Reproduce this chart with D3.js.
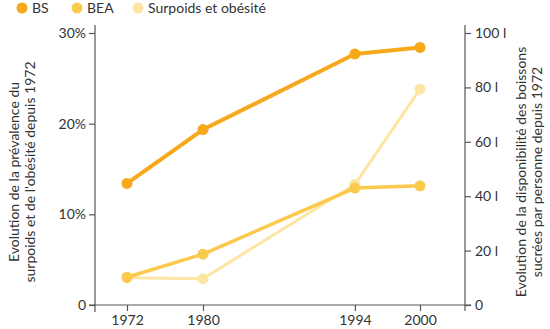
<!DOCTYPE html>
<html><head><meta charset="utf-8">
<script src="https://cdn.jsdelivr.net/npm/d3@7"></script>
<style>
body{margin:0;background:#fff;}
svg{display:block;font-family:Lato,"Open Sans",sans-serif;}
</style></head>
<body>
<svg id="c" width="550" height="329"></svg>
<script>
const years = [1972, 1980, 1994, 2000];
const seriesNames = ["BS", "BEA", "Surpoids et obésité"];
const colors = ["#F7A81B", "#FBC94E", "#FDE5A4"];
// BS and BEA in litres (right axis), Surpoids in % (left axis)
const bs = [44.7, 64.5, 92.3, 94.7];
const bea = [10.2, 18.7, 43.0, 43.8];
const surpoids = [3.0, 2.9, 13.3, 23.8];
const leftTicks = [0, 10, 20, 30];
const leftTickLabels = ["0", "10%", "20%", "30%"];
const rightTicks = [0, 20, 40, 60, 80, 100];
const rightTickLabels = ["0", "20 l", "40 l", "60 l", "80 l", "100 l"];
const leftTitle = ["Evolution de la prévalence du", "surpoids et de l'obésité depuis 1972"];
const rightTitle = ["Evolution de la disponibilité des boissons", "sucrées par personne depuis 1972"];

const svg = d3.select("#c");
const axisColor = "#555";
const x = d3.scaleLinear().domain([1972, 1980, 2000]).range([127, 203, 420]);
const yL = d3.scaleLinear().domain([0, 30]).range([305, 33]);
const yR = d3.scaleLinear().domain([0, 100]).range([305, 33]);

// axis lines
svg.append("line").attr("x1", 95).attr("x2", 95).attr("y1", 25).attr("y2", 312).attr("stroke", axisColor).attr("stroke-width", 1.2);
svg.append("line").attr("x1", 465).attr("x2", 465).attr("y1", 25).attr("y2", 311).attr("stroke", axisColor).attr("stroke-width", 1.2);
svg.append("line").attr("x1", 89).attr("x2", 471).attr("y1", 305).attr("y2", 305).attr("stroke", axisColor).attr("stroke-width", 1.2);

const gL = svg.append("g").attr("transform", "translate(95,0)")
  .call(d3.axisLeft(yL).tickValues(leftTicks).tickFormat((d,i)=>leftTickLabels[i]).tickSize(6).tickSizeOuter(0).tickPadding(3));
const gR = svg.append("g").attr("transform", "translate(465,0)")
  .call(d3.axisRight(yR).tickValues(rightTicks).tickFormat((d,i)=>rightTickLabels[i]).tickSize(6).tickSizeOuter(0).tickPadding(4));
const gB = svg.append("g").attr("transform", "translate(0,305)")
  .call(d3.axisBottom(x).tickValues(years).tickFormat(d3.format("d")).tickSize(6).tickSizeOuter(0).tickPadding(4));
[gL, gR, gB].forEach(g => {
  g.select(".domain").remove();
  g.selectAll(".tick line").attr("stroke", axisColor).attr("stroke-width", 1.2);
  g.selectAll(".tick text").attr("fill", "#333").style("font-size", "14px").style("font-family", "Lato, sans-serif");
});

// titles
const tl = svg.append("text").attr("transform", "translate(14,172) rotate(-90)")
  .attr("text-anchor", "middle").attr("fill", "#333").style("font-size", "14px");
leftTitle.forEach((t, i) => tl.append("tspan").attr("x", 0).attr("dy", i === 0 ? "0.35em" : 16.5).text(t));
const tr = svg.append("text").attr("transform", "translate(521,172) rotate(-90)")
  .attr("text-anchor", "middle").attr("fill", "#333").style("font-size", "14px");
rightTitle.forEach((t, i) => tr.append("tspan").attr("x", 0).attr("dy", i === 0 ? "0.35em" : 16.5).text(t));

// series
const series = [
  {name: seriesNames[2], vals: surpoids, y: yL, color: colors[2], w: 3},
  {name: seriesNames[1], vals: bea, y: yR, color: colors[1], w: 3.5},
  {name: seriesNames[0], vals: bs, y: yR, color: colors[0], w: 4}
];
series.forEach(s => {
  const pts = years.map((yr, i) => [x(yr), s.y(s.vals[i])]);
  svg.append("path").attr("d", d3.line()(pts)).attr("fill", "none")
    .attr("stroke", s.color).attr("stroke-width", s.w).attr("stroke-linejoin", "round");
  svg.selectAll(null).data(pts).enter().append("circle")
    .attr("cx", d => d[0]).attr("cy", d => d[1]).attr("r", 5.5).attr("fill", s.color);
});

// legend
const legX = [22, 77, 138];
seriesNames.forEach((n, i) => {
  svg.append("circle").attr("cx", legX[i]).attr("cy", 8).attr("r", 5.5).attr("fill", colors[i]);
  svg.append("text").attr("x", legX[i] + 10).attr("y", 13).attr("fill", "#333")
    .style("font-size", "14px").text(n);
});
</script>
</body></html>
